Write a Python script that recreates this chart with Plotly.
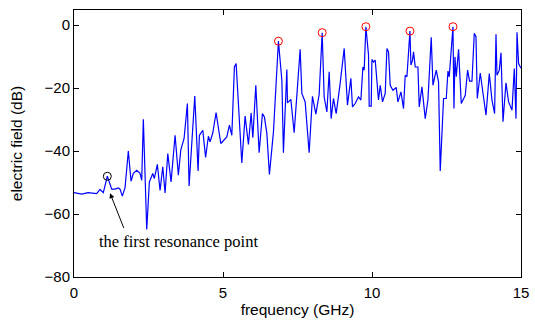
import plotly.graph_objects as go

freq = [0.0, 0.259, 0.470, 0.762, 0.873, 0.984, 1.118, 1.266, 1.377, 1.488, 1.545, 1.622, 1.713, 1.823,
        1.914, 1.991, 2.105, 2.216, 2.273, 2.327, 2.441, 2.529, 2.643, 2.696, 2.797, 2.888, 2.979, 3.056,
        3.147, 3.257, 3.392, 3.502, 3.583, 3.694, 3.805, 3.862, 4.053, 4.164, 4.208, 4.322, 4.416, 4.510,
        4.567, 4.658, 4.768, 4.926, 5.128, 5.215, 5.296, 5.383, 5.440, 5.631, 5.742, 5.853, 5.944, 6.001,
        6.101, 6.212, 6.323, 6.390, 6.471, 6.558, 6.693, 6.860, 6.975, 7.028, 7.143, 7.163, 7.277, 7.388,
        7.589, 7.646, 7.757, 7.891, 8.002, 8.116, 8.227, 8.328, 8.395, 8.486, 8.563, 8.630, 8.707, 8.798,
        8.932, 9.067, 9.177, 9.291, 9.345, 9.436, 9.547, 9.627, 9.694, 9.738, 9.795, 9.883, 9.906, 9.973,
        9.997, 10.050, 10.107, 10.218, 10.276, 10.353, 10.443, 10.501, 10.554, 10.611, 10.702, 10.813,
        10.870, 10.971, 11.058, 11.115, 11.172, 11.273, 11.306, 11.360, 11.394, 11.451, 11.541, 11.585,
        11.676, 11.786, 11.877, 11.954, 11.988, 12.045, 12.156, 12.233, 12.290, 12.401, 12.492, 12.549,
        12.592, 12.717, 12.750, 12.784, 12.827, 12.905, 12.995, 13.130, 13.207, 13.274, 13.355, 13.432,
        13.489, 13.533, 13.633, 13.711, 13.825, 13.936, 14.026, 14.114, 14.161, 14.194, 14.271, 14.329,
        14.396, 14.496, 14.584, 14.698, 14.775, 14.832, 14.866, 14.919, 15.0]

field_db = [-53.2, -53.7, -53.2, -53.5, -52.2, -53.2, -48.0, -52.1, -52.1, -51.7, -52.1, -54.3, -51.6, -40.0,
            -49.6, -47.1, -46.1, -47.1, -49.3, -29.9, -64.9, -49.8, -47.1, -48.7, -44.2, -52.5, -45.0, -53.3,
            -40.8, -49.8, -35.0, -47.7, -39.7, -36.0, -24.9, -51.1, -22.5, -46.3, -35.0, -33.4, -42.0, -35.3,
            -37.1, -34.2, -27.8, -37.6, -35.5, -31.8, -35.0, -13.3, -12.2, -43.8, -28.9, -37.9, -27.9, -35.8,
            -19.1, -40.5, -28.1, -29.2, -34.4, -47.4, -33.9, -5.1, -17.5, -40.5, -14.1, -24.7, -23.6, -34.2,
            -7.7, -21.7, -24.4, -40.5, -22.6, -28.3, -22.0, -2.4, -22.8, -27.6, -14.8, -29.7, -23.3, -28.1,
            -18.5, -7.4, -25.4, -16.9, -26.0, -24.9, -22.8, -23.8, -13.3, -14.3, -0.5, -9.5, -25.7, -25.7,
            -10.9, -11.7, -11.1, -23.8, -19.1, -24.4, -21.7, -7.4, -8.5, -19.1, -20.7, -19.8,
            -24.4, -21.2, -26.5, -15.9, -16.4, -1.9, -12.7, -11.1, -8.5, -13.3, -13.3, -26.0,
            -19.6, -29.7, -23.8, -6.9, -3.9, -19.1, -14.3, -18.0, -46.3, -23.3, -23.3, -14.6,
            -16.4, -0.5, -26.5, -10.1, -16.4, -7.7, -24.9, -22.3, -14.3, -17.8, -17.8, -2.6,
            -3.7, -23.3, -15.2, -20.7, -28.6, -15.4, -23.8, -28.1, -2.9, -15.9, -14.3, -8.8,
            -30.7, -18.3, -24.4, -27.0, -13.8, -29.7, -2.3, -12.2, -13.7]

peak_freq = [6.860, 8.328, 9.795, 11.273, 12.717]
peak_db = [-5.1, -2.4, -0.5, -1.9, -0.5]

first_freq = [1.118]
first_db = [-48.0]

x_ticks = [0, 5, 10, 15]
y_ticks = [-80, -60, -40, -20, 0]

fig = go.Figure()
fig.add_trace(go.Scatter(x=freq, y=field_db, mode="lines",
                         line=dict(color="#0000ff", width=1.2), showlegend=False))
fig.add_trace(go.Scatter(x=peak_freq, y=peak_db, mode="markers",
                         marker=dict(symbol="circle-open", size=8, color="#ff0000",
                                     line=dict(width=1, color="#ff0000")), showlegend=False))
fig.add_trace(go.Scatter(x=first_freq, y=first_db, mode="markers",
                         marker=dict(symbol="circle-open", size=8, color="#000000",
                                     line=dict(width=1, color="#000000")), showlegend=False))

fig.add_annotation(x=1.21, y=-53.4, ax=1.69, ay=-64.9, xref="x", yref="y", axref="x", ayref="y",
                   text="", showarrow=True, arrowhead=2, arrowsize=1, arrowwidth=1, arrowcolor="black")
fig.add_annotation(x=3.5, y=-68.7, xref="x", yref="y", text="the first resonance point",
                   showarrow=False, font=dict(family="Liberation Serif", size=16.5, color="black"))

axis_common = dict(showline=True, linecolor="black", linewidth=1, mirror="ticks",
                   ticks="inside", ticklen=5, tickcolor="black", showgrid=False, zeroline=False,
                   automargin=False,
                   tickfont=dict(family="Liberation Sans", size=15, color="black"))

fig.update_xaxes(range=[0, 15], tickvals=x_ticks, ticklabelstandoff=2,
                 title=dict(text="frequency (GHz)", font=dict(family="Liberation Sans", size=15.5, color="black"),
                            standoff=4),
                 **axis_common)
fig.update_yaxes(range=[-80, 4.8], tickvals=y_ticks,
                 title=dict(text="electric field (dB)", font=dict(family="Liberation Sans", size=15.5, color="black"),
                            standoff=18),
                 **axis_common)

fig.update_layout(width=535, height=323, margin=dict(l=74, r=14, t=10, b=46),
                  plot_bgcolor="white", paper_bgcolor="white")

fig.write_html("out.html")
